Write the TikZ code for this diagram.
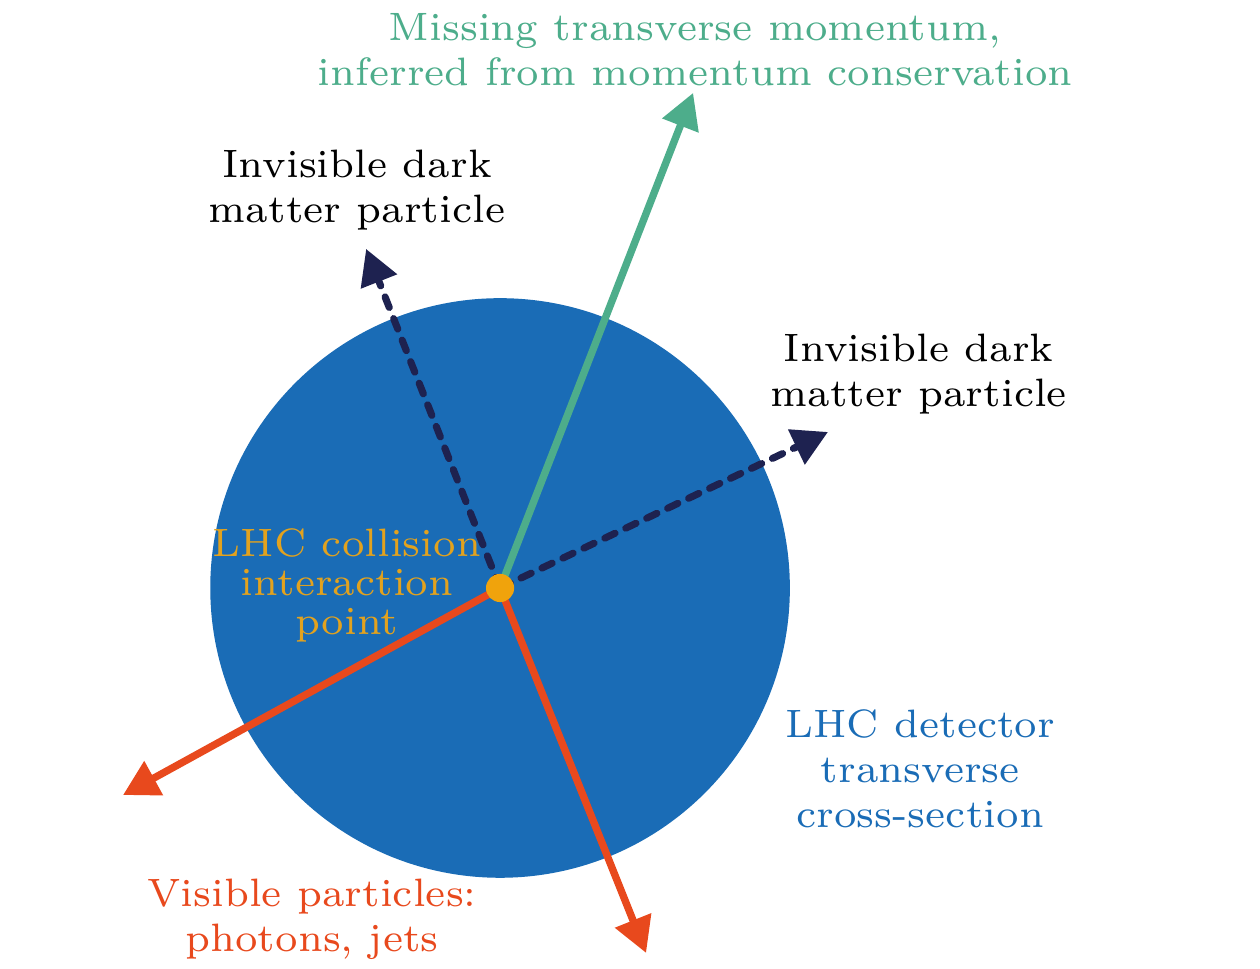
\documentclass[tikz,border=0pt]{standalone}
\usepackage{xcolor}
\usepackage{tikz}
\usetikzlibrary{arrows.meta}
\definecolor{detector}{HTML}{1A6CB6}
\definecolor{missing} {HTML}{4DAD8B}
\definecolor{dark}    {HTML}{1E2250}
\definecolor{visible} {HTML}{E8491D}
\definecolor{vertex}  {HTML}{F0A30C}
\definecolor{vtext}   {HTML}{E2A21E}

\begin{document}
\begin{tikzpicture}[font=\scriptsize,
    track/.style={line width=1.3pt,-{Triangle[length=6.2pt,width=6.6pt]}},
    dmtrack/.style={track,line width=1.25pt,color=dark,dash pattern=on 2pt off 2.1pt,line cap=round},
    label/.style={align=center,inner sep=0pt}]
  \useasboundingbox (-3.106,-2.366) rectangle (4.72,3.652);

  \node[circle,fill=detector,minimum size=3.6cm,inner sep=0pt] (det) at (0,0) {};
  \coordinate (ip) at (0,0);

  % track end points
  \coordinate (met) at (1.199,3.075);
  \coordinate (dmL) at (-0.832,2.106);
  \coordinate (dmR) at (2.037,0.969);
  \coordinate (visL) at (-2.342,-1.286);
  \coordinate (visD) at (0.907,-2.267);

  \draw[track,color=missing] (ip) -- (met);
  \draw[dmtrack] (ip) -- (dmL);
  \draw[dmtrack] (ip) -- (dmR);
  \draw[track,color=visible] (ip) -- (visL);
  \draw[track,color=visible] (ip) -- (visD);

  \node[circle,fill=vertex,minimum size=0.175cm,inner sep=0pt] (vtx) at (ip) {};

  \node[label,color=missing] (metlab) at (1.212,3.345)
    {Missing transverse momentum,\\inferred from momentum conservation};
  \node[label] (dmLlab) at (-0.888,2.47) {Invisible dark\\matter particle};
  \node[label] (dmRlab) at (2.60,1.33) {Invisible dark\\matter particle};
  \node[label,color=vtext] (vtxlab) at (-0.95,0.015)
    {LHC collision\\[-1.1pt]interaction\\[-1.1pt]point};
  \node[label,color=detector] (detlab) at (2.61,-1.124)
    {LHC detector\\transverse\\cross-section};
  \node[label,color=visible] (vislab) at (-1.168,-2.056)
    {Visible particles:\\photons, jets};
\end{tikzpicture}
\end{document}
